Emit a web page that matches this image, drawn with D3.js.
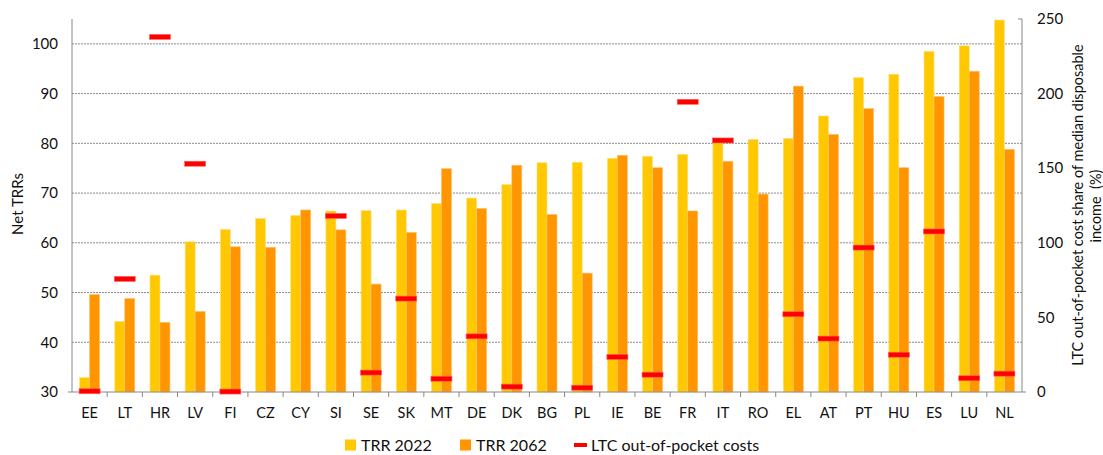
<!DOCTYPE html>
<html><head><meta charset="utf-8">
<script src="https://cdn.jsdelivr.net/npm/d3@7"></script>
<style>body{margin:0;background:#fff;} svg{display:block;font-family:Lato, "Open Sans", sans-serif;}</style>
</head><body>
<svg id="c" width="1103" height="455"></svg>
<script>
const categories = ["EE","LT","HR","LV","FI","CZ","CY","SI","SE","SK","MT","DE","DK","BG","PL","IE","BE","FR","IT","RO","EL","AT","PT","HU","ES","LU","NL"];
const trr2022 = [32.9,44.2,53.5,60.2,62.7,64.9,65.5,66.4,66.5,66.6,67.9,69.0,71.7,76.1,76.2,77.0,77.4,77.8,80.3,80.8,81.0,85.5,93.2,93.9,98.5,99.6,104.8];
const trr2062 = [49.6,48.8,44.0,46.2,59.2,59.1,66.6,62.6,51.7,62.1,74.9,66.9,75.6,65.7,53.9,77.6,75.1,66.4,76.4,69.8,91.5,81.8,87.0,75.1,89.4,94.5,78.8];
const ltcCosts = [0.5,75.8,238,153,0.3,null,null,118,13,62.6,8.9,37.3,3.6,null,2.9,23.5,11.6,194.5,168.6,null,52.1,35.8,96.8,25,107.6,9.2,12.3];
const leftTicks = [30,40,50,60,70,80,90,100];
const rightTicks = [0,50,100,150,200,250];
const seriesNames = ["TRR 2022","TRR 2062","LTC out-of-pocket costs"];

const colY = "#FFC800", colO = "#FF9600", colR = "#FF0000";
const svg = d3.select("#c");
const L = 72, R = 1022, T = 19, B = 392;

const x = d3.scaleBand().domain(categories).range([L, R]).padding(0);
const yL = d3.scaleLinear().domain([30,105]).range([B, T]);
const yR = d3.scaleLinear().domain([0,250]).range([B, T]);
const bw = 10;

// gridlines
svg.append("g").selectAll("line").data(leftTicks.filter(d=>d>30)).join("line")
  .attr("x1", L).attr("x2", R).attr("y1", d=>yL(d)).attr("y2", d=>yL(d))
  .attr("stroke", "#8c8c8c").attr("stroke-width", 1).attr("stroke-dasharray", "2,1");

// bars
const g = svg.append("g");
g.selectAll(".b1").data(categories).join("rect")
  .attr("x", (d)=>x(d)+x.bandwidth()/2-bw).attr("width", bw)
  .attr("y", (d,i)=>yL(trr2022[i])).attr("height", (d,i)=>B-yL(trr2022[i]))
  .attr("fill", colY).attr("stroke", "#FFE080").attr("stroke-width", 0.6);
g.selectAll(".b2").data(categories).join("rect")
  .attr("x", (d)=>x(d)+x.bandwidth()/2).attr("width", bw)
  .attr("y", (d,i)=>yL(trr2062[i])).attr("height", (d,i)=>B-yL(trr2062[i]))
  .attr("fill", colO).attr("stroke", "#FFC070").attr("stroke-width", 0.6);

// axes lines
svg.append("line").attr("x1", L).attr("x2", L).attr("y1", T).attr("y2", B).attr("stroke", "#888");
svg.append("line").attr("x1", R).attr("x2", R).attr("y1", T).attr("y2", B).attr("stroke", "#888");
svg.append("line").attr("x1", R-4).attr("x2", R).attr("y1", T).attr("y2", T).attr("stroke", "#888");
svg.append("line").attr("x1", L-4).attr("x2", R+4).attr("y1", B).attr("y2", B).attr("stroke", "#888");
// x ticks at band boundaries
svg.append("g").selectAll("line").data(categories.slice(1)).join("line")
  .attr("x1", d=>x(d)).attr("x2", d=>x(d)).attr("y1", B).attr("y2", B+5).attr("stroke", "#888");

// red markers
svg.append("g").selectAll("rect").data(categories.map((c,i)=>({c, v:ltcCosts[i]})).filter(d=>d.v!=null)).join("rect")
  .attr("x", d=>x(d.c)+x.bandwidth()/2-10.5).attr("width", 21)
  .attr("y", d=>yR(d.v)-2.5).attr("height", 5)
  .attr("fill", colR).attr("stroke", "#FF6060").attr("stroke-width", 0.6);

// tick labels
svg.append("g").selectAll("text").data(leftTicks).join("text")
  .attr("x", 58).attr("y", d=>yL(d)).attr("dy", "0.35em").attr("text-anchor", "end")
  .attr("font-size", 15).attr("fill", "#111").text(d=>d);
svg.append("g").selectAll("text").data(rightTicks).join("text")
  .attr("x", 1037).attr("y", d=>yR(d)).attr("dy", "0.35em").attr("text-anchor", "start")
  .attr("font-size", 15).attr("fill", "#111").text(d=>d);
svg.append("g").selectAll("text").data(categories).join("text")
  .attr("x", d=>x(d)+x.bandwidth()/2).attr("y", 413).attr("dy", "0.35em").attr("text-anchor", "middle")
  .attr("font-size", 14.5).attr("fill", "#111").text(d=>d);

// axis titles
svg.append("text").attr("transform", "translate(23,204) rotate(-90)").attr("text-anchor", "middle")
  .attr("font-size", 15).attr("fill", "#111").text("Net TRRs");
svg.append("text").attr("transform", "translate(1083,205) rotate(-90)").attr("text-anchor", "middle")
  .attr("font-size", 14.5).attr("fill", "#111").text("LTC out-of-pocket cost share of median disposable");
svg.append("text").attr("transform", "translate(1101,206) rotate(-90)").attr("text-anchor", "middle")
  .attr("font-size", 14.5).attr("fill", "#111").style("white-space","pre").text("income  (%)");

// legend
const lg = svg.append("g");
const ly = 445;
lg.append("rect").attr("x", 345).attr("y", ly-5.5).attr("width", 11).attr("height", 11).attr("fill", colY);
lg.append("text").attr("x", 361).attr("y", ly).attr("dy", "0.35em").attr("font-size", 16).attr("fill", "#111").text(seriesNames[0]);
lg.append("rect").attr("x", 460).attr("y", ly-5.5).attr("width", 11).attr("height", 11).attr("fill", colO);
lg.append("text").attr("x", 476).attr("y", ly).attr("dy", "0.35em").attr("font-size", 16).attr("fill", "#111").text(seriesNames[1]);
lg.append("rect").attr("x", 574).attr("y", ly-2).attr("width", 13).attr("height", 4).attr("fill", colR);
lg.append("text").attr("x", 591).attr("y", ly).attr("dy", "0.35em").attr("font-size", 16).attr("fill", "#111").text(seriesNames[2]);
</script>
</body></html>
